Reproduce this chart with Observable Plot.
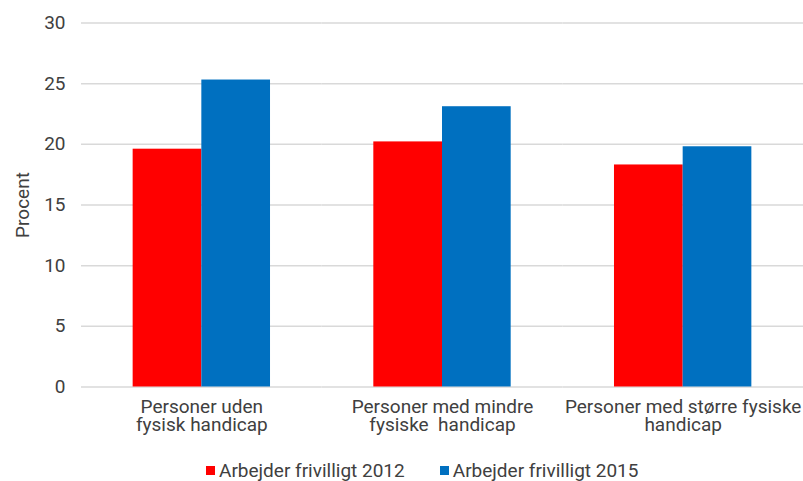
<!DOCTYPE html>
<html><head><meta charset="utf-8">
<script src="https://cdn.jsdelivr.net/npm/d3@7"></script>
<script src="https://cdn.jsdelivr.net/npm/@observablehq/plot@0.6"></script>
<style>
body{margin:0;background:#fff;font-family:Roboto, sans-serif;}
#chart svg text{white-space:pre;}
#legend{display:flex;align-items:center;margin-left:206px;padding-top:12px;height:21px;line-height:20px;font-size:19px;color:#404040;}
.item{display:flex;align-items:center;margin-right:35px;}
.sw{width:9px;height:9px;margin-right:4px;}
</style></head><body>
<div id="chart"></div>
<div id="legend"></div>
<script>
const categories = ["Personer uden\nfysisk handicap", "Personer med mindre\nfysiske  handicap", "Personer med større fysiske\nhandicap"];
const seriesNames = ["Arbejder frivilligt 2012", "Arbejder frivilligt 2015"];
const values2012 = [19.6, 20.2, 18.3];
const values2015 = [25.3, 23.1, 19.8];
const yTicks = [0, 5, 10, 15, 20, 25, 30];
const colors = ["#FF0000", "#0070C0"];

const data = categories.flatMap((c, i) => [
  {category: c, series: seriesNames[0], value: values2012[i]},
  {category: c, series: seriesNames[1], value: values2015[i]}
]);

const chart = Plot.plot({
  width: 803, height: 448,
  marginLeft: 81, marginRight: 0, marginTop: 22.5, marginBottom: 61.5,
  style: {fontFamily: "Roboto, sans-serif", fontSize: "19px", color: "#404040", background: "#fff"},
  fx: {domain: categories, paddingInner: 0, paddingOuter: 0, round: false},
  x: {domain: seriesNames, paddingInner: 0, paddingOuter: 0.752, round: false, axis: null},
  y: {domain: [0, 30]},
  color: {domain: seriesNames, range: colors},
  marks: [
    Plot.ruleY(yTicks, {stroke: "#d9d9d9", strokeWidth: 1.5}),
    Plot.barY(data, {fx: "category", x: "series", y: "value", fill: "series"}),
    Plot.axisY({ticks: yTicks, tickSize: 0, tickPadding: 16, fontSize: 19, label: "Procent", labelAnchor: "center", labelArrow: "none", labelOffset: 66}),
    Plot.axisFx({anchor: "bottom", tickSize: 0, tickPadding: 12, label: null, fontSize: 19, lineHeight: 1})
  ]
});
document.getElementById("chart").appendChild(chart);

const legend = document.getElementById("legend");
seriesNames.forEach((name, i) => {
  const item = document.createElement("div");
  item.className = "item";
  const sw = document.createElement("div");
  sw.className = "sw";
  sw.style.background = colors[i];
  const label = document.createElement("span");
  label.textContent = name;
  item.appendChild(sw);
  item.appendChild(label);
  legend.appendChild(item);
});
</script>
</body></html>
